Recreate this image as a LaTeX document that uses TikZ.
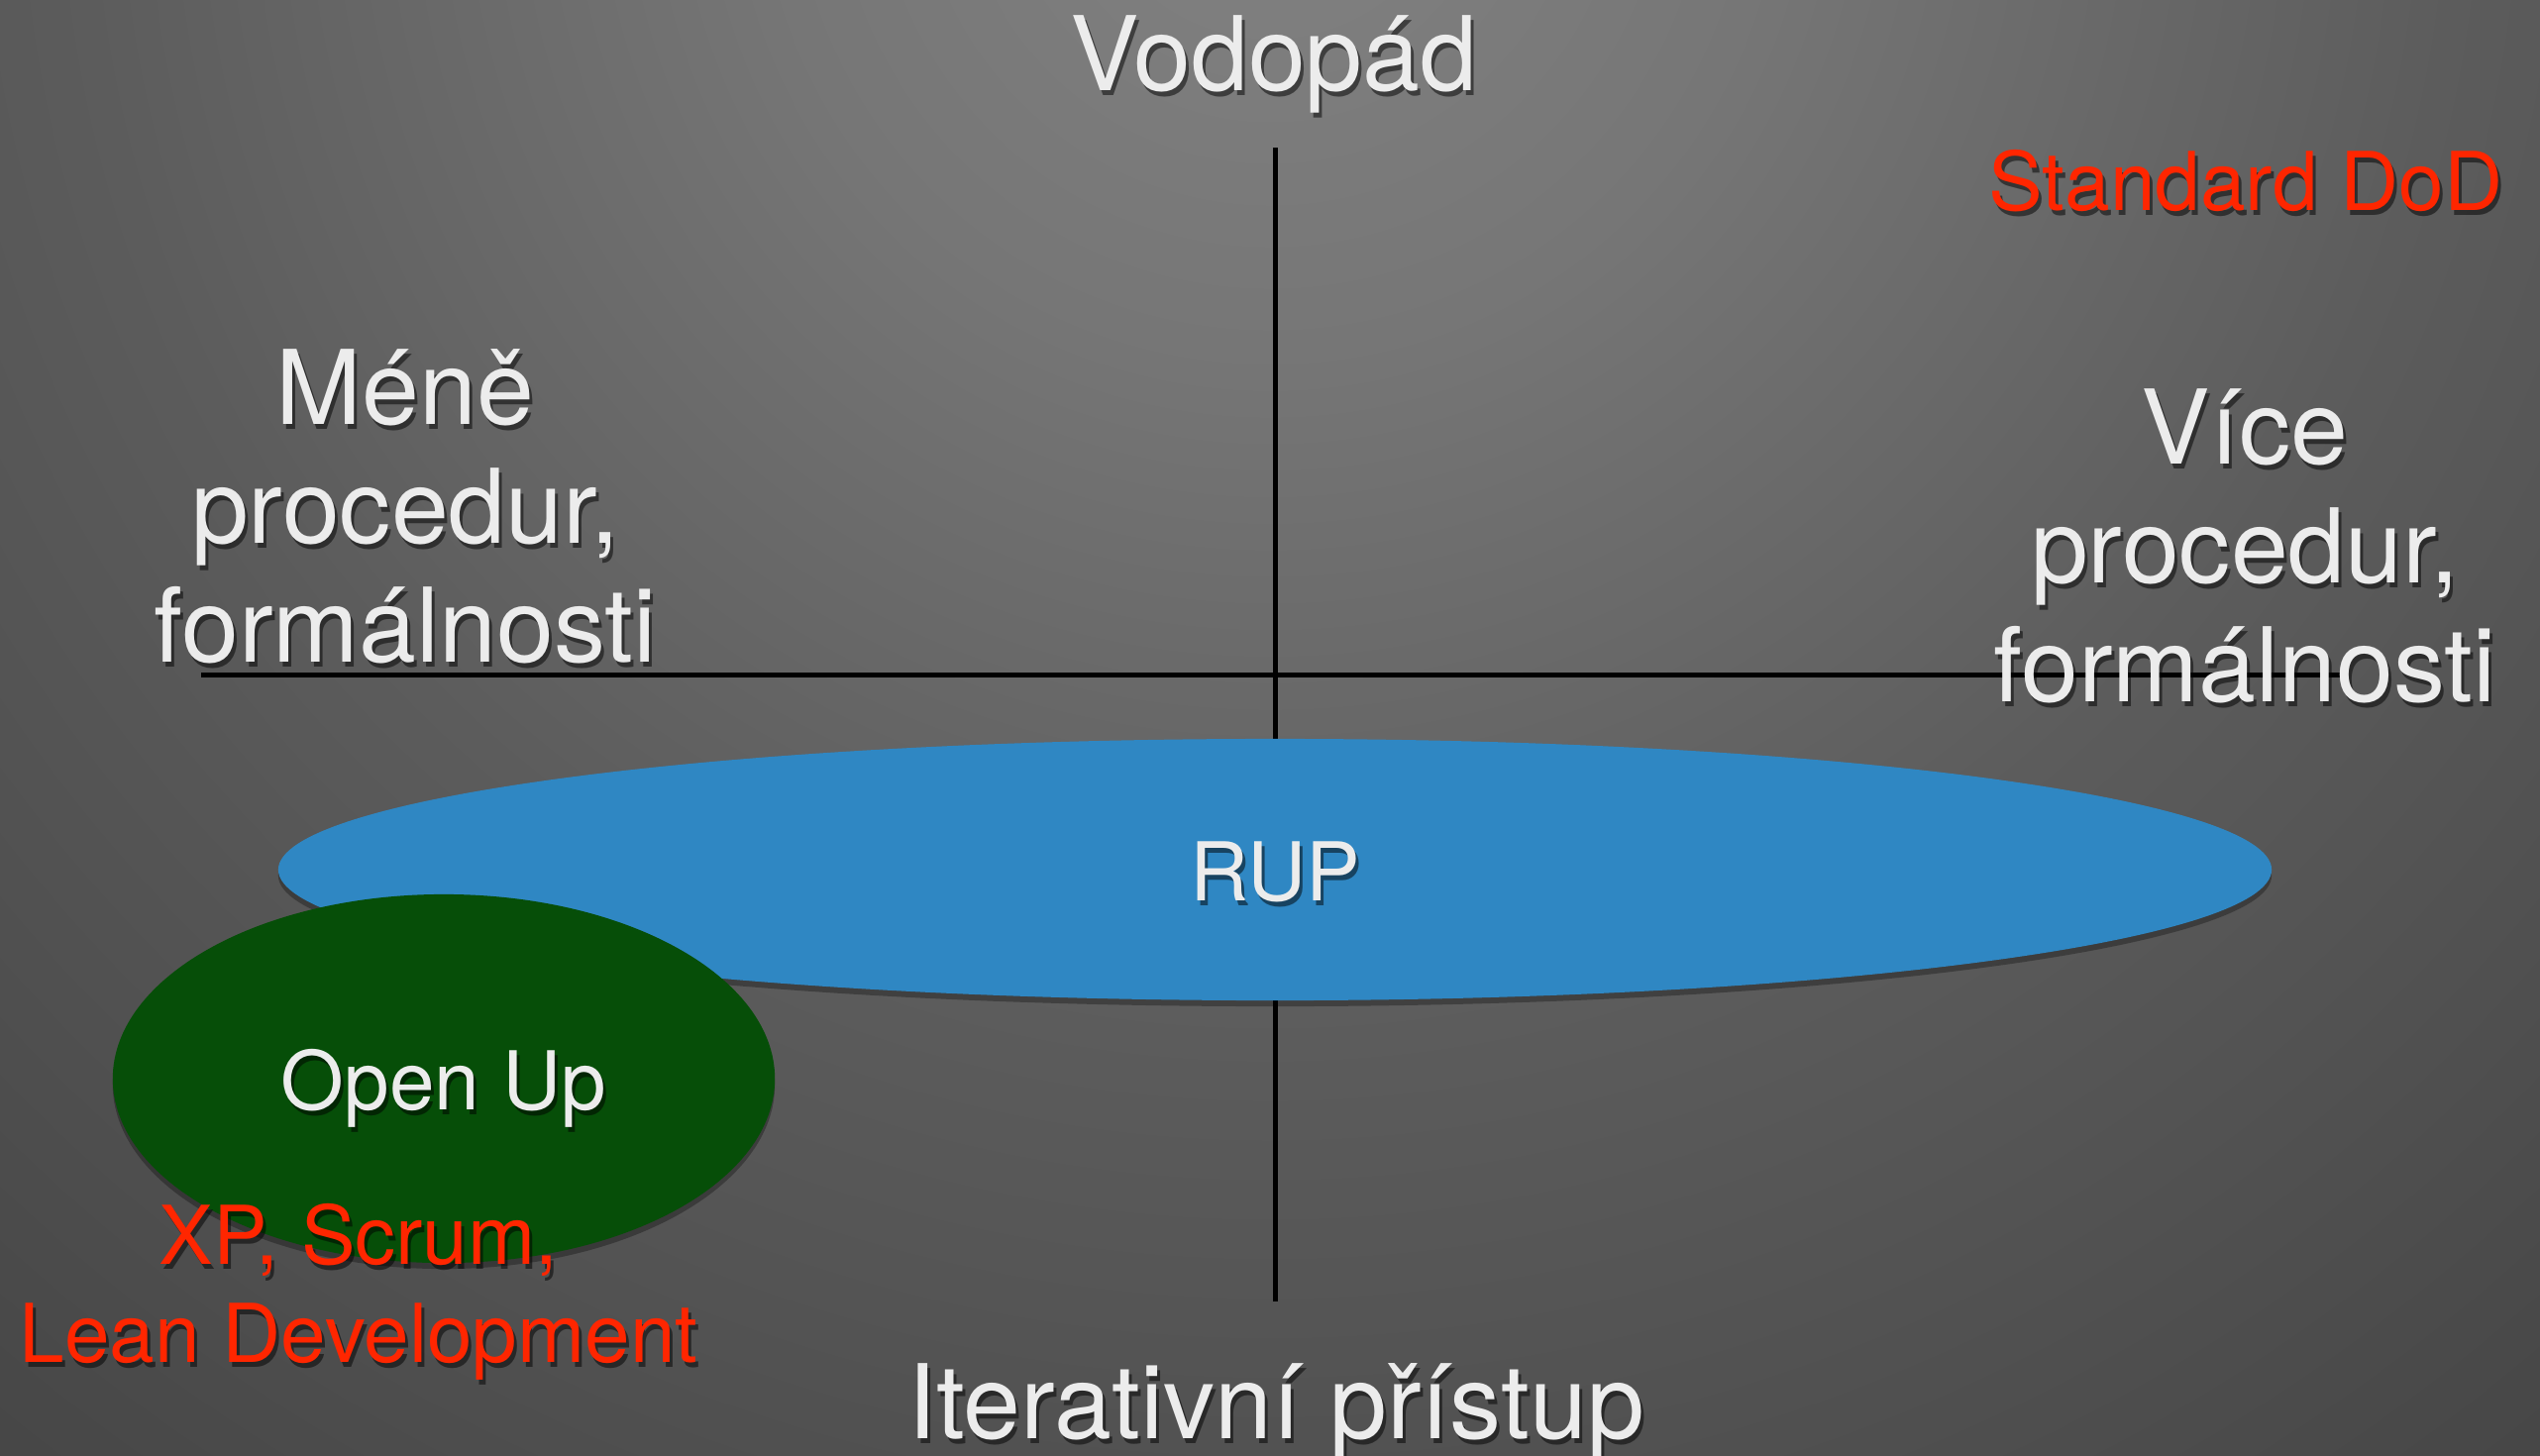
\documentclass[tikz,border=0pt]{standalone}
\usepackage{fontspec}
\setmainfont{TeX Gyre Heros}
\usetikzlibrary{shapes.geometric}

\definecolor{txtwhite}{RGB}{236,236,236}
\definecolor{txtred}{RGB}{255,38,0}
\definecolor{rupblue}{RGB}{47,135,195}
\definecolor{opengreen}{RGB}{6,78,8}
\definecolor{bg0}{RGB}{130,130,130}
\definecolor{bg1}{RGB}{118,118,118}
\definecolor{bg2}{RGB}{92,92,92}
\definecolor{bg3}{RGB}{72,72,72}
\definecolor{bg4}{RGB}{56,56,56}
\definecolor{bg5}{RGB}{45,45,45}
\definecolor{bg6}{RGB}{40,40,40}

% soft spotlight behind the slide, brightest near the top centre
\pgfdeclareradialshading{slidebg}{\pgfpoint{0bp}{0bp}}{%
  color(0bp)=(bg0); color(6bp)=(bg1); color(14.3bp)=(bg2);
  color(23.8bp)=(bg3); color(34.5bp)=(bg4); color(42.9bp)=(bg5);
  color(50bp)=(bg6)}

\tikzset{
  bigtxt/.style={font=\fontsize{29.6}{34.1}\selectfont, text=txtwhite,
    align=center, anchor=base, inner sep=0pt},
  smalltxt/.style={font=\fontsize{23.3}{27.9}\selectfont, text=txtwhite,
    align=center, anchor=base, inner sep=0pt},
  redtxt/.style={smalltxt, text=txtred},
  shadowtxt/.style={text=black, text opacity=0.5, xshift=0.03cm, yshift=-0.05cm},
  axisline/.style={line width=0.05cm, black},
  blob/.style={ellipse, inner sep=0pt, draw=none},
  blobshadow/.style={blob, fill=black, opacity=0.3},
}

% text with a soft drop shadow: name, style, x, y (baseline of the last line), text
\newcommand{\slidetext}[5]{%
  \node[#2, shadowtxt] (#1-shadow) at (#3,#4) {#5};
  \node[#2] (#1) at (#3,#4) {#5};
}

\begin{document}
\begin{tikzpicture}[x=0.01cm, y=-0.01cm]
  \useasboundingbox (0,0) rectangle (2564,1469);

  % background
  \fill[bg6] (0,0) rectangle (2564,1469);
  \begin{scope}
    \clip (0,0) rectangle (2564,1469);
    \shade[shading=slidebg] (1282,-150) circle [radius=2100];
  \end{scope}

  % axes
  \coordinate (vtop) at (1287,149);
  \coordinate (vbot) at (1287,1314);
  \coordinate (hleft) at (203,681);
  \coordinate (hright) at (2362,681);
  \draw[axisline] (vtop) -- (vbot);
  \draw[axisline] (hleft) -- (hright);

  % RUP
  \node[blobshadow, minimum width=20.11cm, minimum height=2.64cm] (rup-shade) at (1287,884) {};
  \node[blob, fill=rupblue, minimum width=20.11cm, minimum height=2.64cm] (rup-blob) at (1287,878) {};
  \slidetext{rup}{smalltxt}{1287}{909}{RUP}

  % Open Up
  \node[blobshadow, minimum width=6.68cm, minimum height=3.72cm] (open-shade) at (448,1095) {};
  \node[blob, fill=opengreen, minimum width=6.68cm, minimum height=3.72cm] (open-blob) at (448,1089) {};
  \slidetext{openup}{smalltxt}{448}{1120}{Open Up}

  % axis captions
  \slidetext{vodopad}{bigtxt}{1286}{91}{Vodopád}
  \slidetext{iter}{bigtxt}{1288}{1452}{Iterativní přístup}
  \slidetext{mene}{bigtxt}{409}{668}{Méně\\procedur,\\formálnosti}
  \slidetext{vice}{bigtxt}{2266}{708}{Více\\procedur,\\formálnosti}

  % red notes
  \slidetext{dod}{redtxt}{2267}{212}{Standard DoD}
  \slidetext{agile}{redtxt}{362}{1375}{XP, Scrum,\\Lean Development}
\end{tikzpicture}
\end{document}
